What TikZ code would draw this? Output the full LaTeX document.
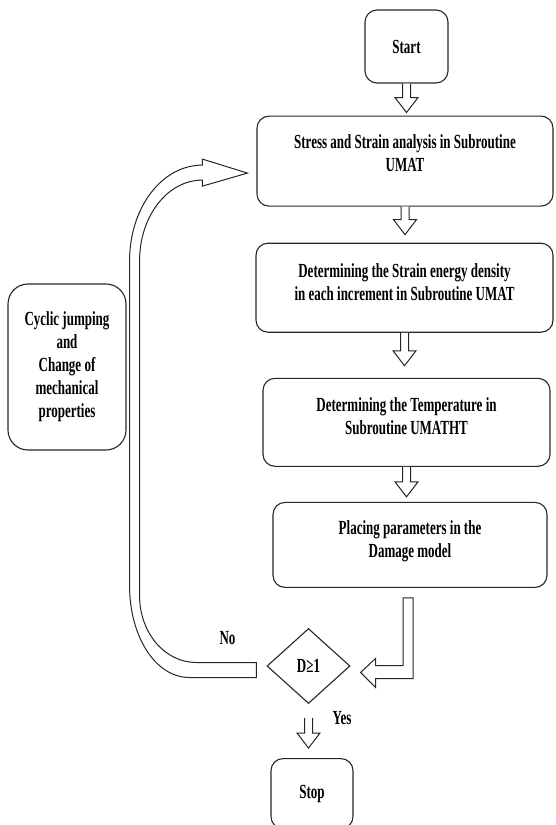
\documentclass[tikz,border=0pt]{standalone}
\usepackage{fontspec}
\setmainfont{Liberation Serif}[FakeStretch=0.65]
\usepackage{tikz}
\usetikzlibrary{positioning,calc,shapes.geometric}
\tikzset{proc node/.style={draw=black!85,line width=1.1pt,rounded corners=12pt,inner sep=0pt},
  box text/.style={align=center,inner sep=0pt},
  dec node/.style={diamond,draw=black!85,line width=1.1pt,inner sep=0pt,minimum width=83pt,minimum height=75pt},
  hollow/.style={draw=black!85,line width=1pt,fill=white,line join=miter},}
\newcommand{\hollowdown}[2]{%
  \path[hollow] let \p1=(#1), \p2=(#2) in
    (\x1-4pt,\y1) -- (\x1-4pt,\y2+15pt) -- (\x1-11.5pt,\y2+15pt) -- (\x1,\y2)
    -- (\x1+11.5pt,\y2+15pt) -- (\x1+4pt,\y2+15pt) -- (\x1+4pt,\y1);}

\begin{document}
\begin{tikzpicture}[x=1pt,y=-1pt,every node/.append style={font=\fontsize{20}{23}\selectfont\bfseries}]
    \useasboundingbox (0,0) rectangle (555,825);

    \node[proc node,minimum width=83pt,minimum height=73pt] (1) at (406.5,46.5) {Start};
    \node[proc node,minimum width=296pt,minimum height=90pt] (2) [below=32pt of 1,xshift=-1.5pt] {};
    \node[proc node,minimum width=297pt,minimum height=89pt] (3) [below=36pt of 2,xshift=-0.5pt] {};
    \node[proc node,minimum width=287pt,minimum height=88pt] (4) [below=45pt of 3,xshift=2pt] {};
    \node[proc node,minimum width=274pt,minimum height=85pt] (5) [below=35pt of 4,xshift=3.5pt] {};
    \node[dec node] (6) [below=40pt of 5,xshift=-101.5pt] {D≥1};
    \node[proc node,minimum width=82pt,minimum height=70pt] (7) [below=54pt of 6,xshift=3.5pt] {Stop};
    \node[proc node,rounded corners=20pt,minimum width=118pt,minimum height=166pt,align=center] (8) at (67,367)
      {Cyclic jumping\\and\\Change of\\mechanical\\properties};

    \node[box text] (2a) [below=19pt of 2.north] {Stress and Strain analysis in Subroutine\\UMAT};
    \node[box text] (3a) [below=21pt of 3.north] {Determining the Strain energy density\\in each increment in Subroutine UMAT};
    \node[box text] (4a) [below=20pt of 4.north] {Determining the Temperature in\\Subroutine UMATHT};
    \node[box text] (5a) [below=19pt of 5.north] {Placing parameters in the\\Damage model};

    \node (no) at ([xshift=-39pt,yshift=28pt]6.west) {No};
    \node (yes) at ([xshift=33.5pt,yshift=-14pt]6.south) {Yes};

    \hollowdown{1.south}{[yshift=3pt]2.north}
    \hollowdown{2.south}{[yshift=8pt]3.north}
    \hollowdown{3.south}{[yshift=12pt]4.north}
    \hollowdown{4.south}{[yshift=5pt]5.north}
    \hollowdown{[yshift=-14pt]6.south}{[yshift=10pt]7.north}

    \path[hollow] let \p1=(5.south), \p2=(6.east) in
    (\x1-7pt,\y1-10pt) -- (\x1+3pt,\y1-10pt) -- (\x1+3pt,\y2-12.5pt) -- (\x2+25pt,\y2-12.5pt)
    -- (\x2+25pt,\y2-21.5pt) -- (\x2+10pt,\y2-6.5pt) -- (\x2+25pt,\y2+7.5pt) -- (\x2+25pt,\y2+0.5pt)
    -- (\x1-7pt,\y2+0.5pt) -- cycle;

    \path[hollow] let \p1=(6.west), \p2=(2.west), \p3=(8.east) in
    (\x1-10pt,\y1-11.5pt) -- (\x1-77pt,\y1-11.5pt)
    .. controls (\x1-111pt,\y1-11.5pt) and (\x3+3pt,\y1+29.5pt) .. (\x3+3pt,\y1+80.5pt)
    -- (\x3+3pt,\y2-100pt)
    .. controls (\x3+3pt,\y2-47pt) and (\x2-95pt,\y2-4pt) .. (\x2-54pt,\y2-4pt)
    -- (\x2-54pt,\y2+2pt) -- (\x2-9pt,\y2-12pt) -- (\x2-54pt,\y2-25pt) -- (\x2-54pt,\y2-19pt)
    .. controls (\x2-89pt,\y2-19pt) and (\x3+13pt,\y2-55pt) .. (\x3+13pt,\y2-100pt)
    -- (\x3+13pt,\y1+70.5pt)
    .. controls (\x3+13pt,\y1+33.5pt) and (\x1-102pt,\y1+3.5pt) .. (\x1-70pt,\y1+3.5pt)
    -- (\x1-10pt,\y1+3.5pt) -- cycle;
\end{tikzpicture}
\end{document}
